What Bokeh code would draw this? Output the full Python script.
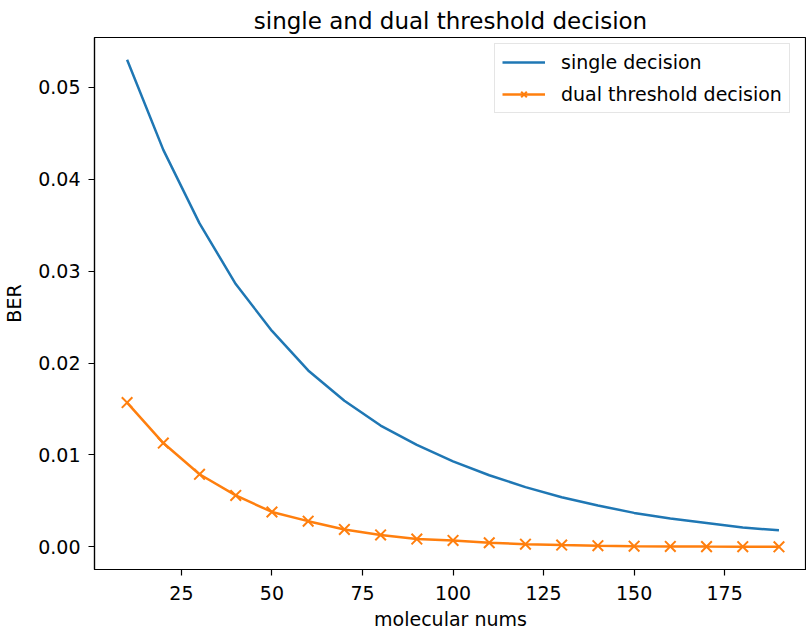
from bokeh.plotting import figure
from bokeh.models import FixedTicker, PrintfTickFormatter, Range1d, Title
from bokeh.embed import file_html
from bokeh.resources import INLINE

# ---- data ----
molecular_nums = [10, 20, 30, 40, 50, 60, 70, 80, 90, 100,
                  110, 120, 130, 140, 150, 160, 170, 180, 190]
single_decision = [0.0530, 0.0432, 0.0352, 0.0286, 0.0235, 0.0192, 0.0159,
                   0.0132, 0.0111, 0.0093, 0.0078, 0.0065, 0.0054, 0.0045,
                   0.0037, 0.0031, 0.0026, 0.0021, 0.0018]
dual_threshold = [0.0157, 0.0113, 0.0079, 0.0056, 0.0038, 0.0028, 0.0019,
                  0.0013, 0.00085, 0.0007, 0.00045, 0.0003, 0.0002, 0.00013,
                  0.00008, 0.00005, 0.00003, 0.00002, 0.00001]
x_ticks = [25, 50, 75, 100, 125, 150, 175]
y_ticks = [0.00, 0.01, 0.02, 0.03, 0.04, 0.05]

FONT = "DejaVu Sans"
BLUE = "#1f77b4"
ORANGE = "#ff7f0e"

p = figure(width=806, height=635, output_backend="svg", toolbar_location=None,
           x_range=Range1d(1.0, 197.6), y_range=Range1d(-0.00246, 0.05543),
           min_border_left=93, min_border_right=0, min_border_top=37,
           min_border_bottom=66, title=None)

p.add_layout(Title(text="single and dual threshold decision", align="center",
                   text_font=FONT, text_font_size="23px", text_font_style="normal",
                   text_color="black", standoff=8), "above")

p.xgrid.visible = False
p.ygrid.visible = False
p.outline_line_color = "black"
p.outline_line_width = 1.2
p.background_fill_color = "white"
p.border_fill_color = "white"

p.line(molecular_nums, single_decision, line_color=BLUE, line_width=2.5,
       legend_label="single decision")
p.line(molecular_nums, dual_threshold, line_color=ORANGE, line_width=2.5,
       legend_label="dual threshold decision")
p.scatter(molecular_nums, dual_threshold, marker="x", size=15,
          line_color=ORANGE, line_width=2, legend_label="dual threshold decision")

for ax in (p.xaxis[0], p.yaxis[0]):
    ax.axis_line_color = "black"
    ax.axis_line_width = 1.2
    ax.major_tick_line_color = "black"
    ax.major_tick_line_width = 1.2
    ax.major_tick_out = 6
    ax.major_tick_in = 0
    ax.minor_tick_out = 0
    ax.minor_tick_in = 0
    ax.major_label_text_font = FONT
    ax.major_label_text_font_size = "19px"
    ax.major_label_text_color = "black"
    ax.axis_label_text_font = FONT
    ax.axis_label_text_font_size = "19px"
    ax.axis_label_text_font_style = "normal"
    ax.axis_label_text_color = "black"

p.xaxis[0].ticker = FixedTicker(ticks=x_ticks)
p.yaxis[0].ticker = FixedTicker(ticks=y_ticks)
p.yaxis[0].formatter = PrintfTickFormatter(format="%.2f")
p.xaxis[0].axis_label = "molecular nums"
p.yaxis[0].axis_label = "BER"
p.xaxis[0].major_label_standoff = 10
p.yaxis[0].major_label_standoff = 8
p.xaxis[0].axis_label_standoff = 5
p.yaxis[0].axis_label_standoff = 10

lg = p.legend[0]
lg.location = (400, 456)
lg.label_text_font = FONT
lg.label_text_font_size = "19px"
lg.label_text_color = "black"
lg.glyph_width = 43
lg.glyph_height = 20
lg.label_height = 20
lg.label_standoff = 16
lg.spacing = 10
lg.padding = 7
lg.margin = 0
lg.border_line_color = "#cccccc"
lg.border_line_width = 1
lg.background_fill_color = "white"
lg.background_fill_alpha = 0.8

open("out.html", "w").write(file_html(p, INLINE))
